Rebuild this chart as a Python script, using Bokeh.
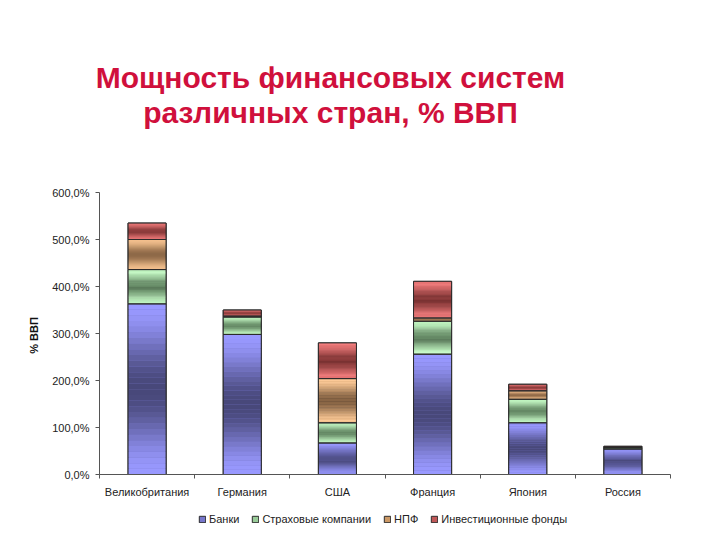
from bokeh.plotting import figure
from bokeh.models import (FixedTicker, Legend, LegendItem, Label, ColumnDataSource,
                          Range1d, LinearAxis)
from bokeh.embed import file_html
from bokeh.resources import INLINE
import numpy as np

# ---- data (percent of GDP) ----
countries = ["Великобритания", "Германия", "США", "Франция", "Япония", "Россия"]
banks = [363, 298, 67, 256, 110, 54]
insurance = [73, 37, 43, 70, 50, 3]
pension = [64, 2, 94, 7, 18, 1]
investment = [35, 13, 76, 78, 14, 2]
series_names = ["Банки", "Страховые компании", "НПФ", "Инвестиционные фонды"]
y_ticks = [0, 100, 200, 300, 400, 500, 600]
y_tick_labels = ["0,0%", "100,0%", "200,0%", "300,0%", "400,0%", "500,0%", "600,0%"]
title_lines = ["Мощность финансовых систем", "различных стран, % ВВП"]
y_title = "% ВВП"

# ---- layout (pixels) ----
W, H = 695, 525
LEFT, RIGHT = 99, 670          # plot area horizontal extent
TOP0, BOT0 = 192, 474          # pixel rows of 600 % and 0 %
NCAT = len(countries)
YMAX_V = 600
ppu_y = (BOT0 - TOP0) / YMAX_V
ppu_x = (RIGHT - LEFT) / NCAT
y_lo = -(H - BOT0) / ppu_y
y_hi = YMAX_V + TOP0 / ppu_y
x_lo = -LEFT / ppu_x
x_hi = NCAT + (W - RIGHT) / ppu_x

# ---- styles ----
light_cols = ["#9999ff", "#ccffcc", "#ffcc99", "#f47f7f"]
dark_cols = ["#48487a", "#5a7a5a", "#7a5a3e", "#7a3232"]
mid_cols = ["#7777cc", "#99cc99", "#cc9966", "#c05858"]
FONT = "Liberation Sans"
BAR_W = 0.4

def hex2rgb(h):
    h = h.lstrip("#")
    return np.array([int(h[i:i + 2], 16) for i in (0, 2, 4)], dtype=float)

def rgb2hex(c):
    return "#%02x%02x%02x" % tuple(int(round(v)) for v in c)

series = [banks, insurance, pension, investment]
keys = ["s0", "s1", "s2", "s3"]
xc = [i + 0.5 for i in range(NCAT)]

p = figure(width=W, height=H, x_range=Range1d(x_lo, x_hi), y_range=Range1d(y_lo, y_hi),
           output_backend="svg", toolbar_location=None, x_axis_location=None,
           y_axis_location=None, min_border_left=0, min_border_right=0,
           min_border_top=0, min_border_bottom=0)
p.outline_line_color = None
p.xgrid.visible = False
p.ygrid.visible = False
p.background_fill_color = "white"

# base stacked bars (mid colours, used for legend)
src = ColumnDataSource(dict(x=xc, s0=banks, s1=insurance, s2=pension, s3=investment))
base = p.vbar_stack(keys, x="x", width=BAR_W, source=src, fill_color=mid_cols,
                    line_color="#2b2b2b", line_width=1)

# gradient shading bands within each segment
N = 30
L, R, B, T, C = [], [], [], [], []
bottoms = np.zeros(NCAT)
for si, vals in enumerate(series):
    lc, dc = hex2rgb(light_cols[si]), hex2rgb(dark_cols[si])
    for ci, v in enumerate(vals):
        b0 = bottoms[ci]
        for k in range(N):
            f = (k + 0.5) / N
            g = np.sin(np.pi * f) ** 2
            L.append(xc[ci] - BAR_W / 2)
            R.append(xc[ci] + BAR_W / 2)
            B.append(b0 + v * k / N)
            T.append(b0 + v * (k + 1) / N)
            C.append(rgb2hex(lc + (dc - lc) * g))
    bottoms = bottoms + np.array(vals)
p.quad(left=L, right=R, bottom=B, top=T, fill_color=C, line_color=None)

# outlines on top
p.vbar_stack(keys, x="x", width=BAR_W, source=src, fill_color=None,
             line_color="#2b2b2b", line_width=1)

# ---- axes ----
xa = LinearAxis(fixed_location=0, bounds=(0, NCAT))
xa.ticker = FixedTicker(ticks=xc, minor_ticks=list(range(NCAT + 1)))
xa.major_label_overrides = {x: c for x, c in zip(xc, countries)}
xa.major_tick_line_color = None
xa.minor_tick_in = 0
xa.minor_tick_out = 4
xa.minor_tick_line_color = "#555555"
xa.axis_line_color = "#555555"
xa.major_label_text_font = FONT
xa.major_label_text_font_size = "11px"
xa.major_label_text_color = "#222222"
xa.major_label_standoff = 5
p.add_layout(xa, "below")

ya = LinearAxis(fixed_location=0, bounds=(0, YMAX_V))
ya.ticker = FixedTicker(ticks=y_ticks)
ya.major_label_overrides = {t: l for t, l in zip(y_ticks, y_tick_labels)}
ya.minor_tick_line_color = None
ya.major_tick_in = 0
ya.major_tick_out = 4
ya.major_tick_line_color = "#555555"
ya.axis_line_color = "#555555"
ya.major_label_text_font = FONT
ya.major_label_text_font_size = "11px"
ya.major_label_text_color = "#222222"
ya.major_label_standoff = 6
p.add_layout(ya, "left")

# y axis title (rotated)
p.add_layout(Label(x=33, y=H - 335, x_units="screen", y_units="screen", text=y_title,
                   angle=np.pi / 2, text_align="center", text_baseline="middle",
                   text_font=FONT, text_font_size="11px", text_font_style="bold",
                   text_color="#111111"))

# ---- legend ----
legend = Legend(items=[LegendItem(label=n, renderers=[r]) for n, r in zip(series_names, base)],
                orientation="horizontal", location=(198, 0),
                label_text_font=FONT, label_text_font_size="11px",
                label_text_color="#222222", glyph_width=8, glyph_height=8,
                label_standoff=3, spacing=12, padding=0, margin=0,
                border_line_color=None, background_fill_alpha=0)
p.add_layout(legend, "center")

# ---- title ----
for line, base_y in zip(title_lines, [77, 112]):
    p.add_layout(Label(x=330, y=H - base_y, x_units="screen", y_units="screen",
                       text=line, text_align="center", text_baseline="alphabetic",
                       text_font=FONT, text_font_size="30px", text_font_style="bold",
                       text_color="#d0103c"))

open("out.html", "w").write(file_html(p, INLINE))
